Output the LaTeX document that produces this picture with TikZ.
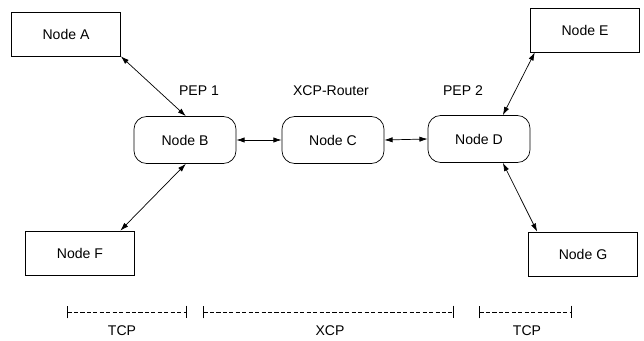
\documentclass[tikz,border=0pt]{standalone}
\usepackage{fontspec}
\setmainfont{Liberation Sans}
\usetikzlibrary{arrows.meta,calc}

\tikzset{
    box/.style={draw, line width=0.6pt, minimum width=3.27cm, minimum height=1.32cm, font=\fontsize{12}{14}\selectfont},
    pep/.style={draw, line width=0.6pt, rounded corners=0.38cm, minimum width=3.06cm, minimum height=1.41cm, font=\fontsize{12}{14}\selectfont},
    lbl/.style={font=\fontsize{12}{14}\selectfont},
    link/.style={line width=0.6pt, {Latex[length=7pt,width=4.5pt]}-{Latex[length=7pt,width=4.5pt]}},
    span/.style={line width=0.6pt, dash pattern=on 3.5pt off 2pt, {Bar[width=11pt]}-{Bar[width=11pt]}}
}

\begin{document}
\begin{tikzpicture}[x=0.03cm, y=-0.03cm]
            \useasboundingbox (0,0) rectangle (644,341);
            % Hosts
            \node at (66,34) (nA) [box] {Node A};
            \node at (585,30) (nE) [box] {Node E};
            \node at (80,253) (nF) [box] {Node F};
            \node at (583,254) (nG) [box] {Node G};
            % PEPs und Router
            \node at (185,140) (nB) [pep] {Node B};
            \node at (333,140) (nC) [pep] {Node C};
            \node at (479,139) (nD) [pep] {Node D};
            \node at (199,91) (lB) [lbl] {PEP 1};
            \node at (331,91) (lC) [lbl] {XCP-Router};
            \node at (463,91) (lD) [lbl] {PEP 2};
            % Verbindungen
            \draw[link] (nA.south east) -- (nB.88);
            \draw[link] (nB.-88) -- (nF.29);
            \draw[link] (nB.east) -- (nC.west);
            \draw[link] (nC.east) -- (nD.west);
            \draw[link] (nD.45) -- (nE.204);
            \draw[link] (nD.-45) -- (nG.154);
            % Abschnitte
            \coordinate (s1) at (67,312);
            \coordinate (e1) at (187,312);
            \coordinate (s2) at (203,312);
            \coordinate (e2) at (454,312);
            \coordinate (s3) at (479,312);
            \coordinate (e3) at (572,312);
            \draw[span] (s1) -- (e1);
            \draw[span] (s2) -- (e2);
            \draw[span] (s3) -- (e3);
            \node at (122,331) (t1) [lbl] {TCP};
            \node at (330,331) (t2) [lbl] {XCP};
            \node at (527,331) (t3) [lbl] {TCP};
        \end{tikzpicture}
\end{document}
